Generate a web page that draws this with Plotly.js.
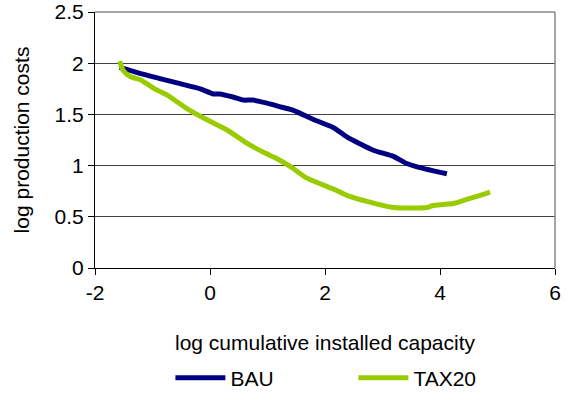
<!DOCTYPE html>
<html><head><meta charset="utf-8">
<script src="https://cdn.plot.ly/plotly-3.0.1.min.js"></script>
<style>html,body{margin:0;padding:0;background:#fff}#c{width:568px;height:398px}</style>
</head><body><div id="c"></div>
<script>
const bauX = [-1.57,-1.39,-1.22,-0.87,-0.52,-0.17,0.06,0.17,0.40,0.58,0.75,0.99,1.25,1.45,1.80,2.15,2.38,2.84,3.19,3.42,3.65,4.12];
const bauY = [1.96,1.93,1.90,1.85,1.80,1.75,1.70,1.70,1.67,1.64,1.64,1.61,1.57,1.54,1.45,1.37,1.28,1.15,1.09,1.02,0.98,0.92];
const taxX = [-1.57,-1.51,-1.39,-1.22,-1.10,-0.93,-0.75,-0.41,-0.06,0.29,0.64,0.93,1.16,1.40,1.68,2.15,2.38,2.73,3.19,3.77,3.88,4.06,4.23,4.41,4.58,4.70,4.87];
const taxY = [2.02,1.93,1.87,1.84,1.80,1.74,1.69,1.56,1.45,1.35,1.22,1.13,1.07,0.99,0.88,0.77,0.71,0.65,0.59,0.59,0.61,0.62,0.63,0.66,0.69,0.71,0.74];
const xTicks = [-2,0,2,4,6];
const yTicks = [0,0.5,1,1.5,2,2.5];
const F = "'Liberation Sans', Arial, sans-serif";
const FS = 21;
const traces = [
  {x: bauX, y: bauY, name: 'BAU', mode: 'lines', line: {color: '#000080', width: 5, shape: 'spline', smoothing: 0.6}},
  {x: taxX, y: taxY, name: 'TAX20', mode: 'lines', line: {color: '#99CC00', width: 5, shape: 'spline', smoothing: 0.6}}
];
const layout = {
  width: 568, height: 398,
  margin: {l: 95, r: 13, t: 12, b: 130},
  paper_bgcolor: '#fff', plot_bgcolor: '#fff',
  font: {family: F, size: FS, color: '#000'},
  showlegend: true,
  legend: {orientation: 'h', x: 0.30, xref: 'container', xanchor: 'left', y: 0.05, yref: 'container', yanchor: 'middle',
    font: {family: F, size: FS}, itemwidth: 50, entrywidth: 118, traceorder: 'normal'},
  xaxis: {range: [-2, 6], tickvals: xTicks, ticktext: xTicks.map(String), showgrid: false, zeroline: false, automargin: false,
    showline: true, linecolor: '#000', linewidth: 1, ticks: 'outside', ticklen: 6, tickcolor: '#000',
    title: {text: 'log cumulative installed capacity', font: {family: F, size: FS}, standoff: 32}},
  yaxis: {range: [0, 2.5], tickvals: yTicks, ticktext: yTicks.map(String), showgrid: true, gridcolor: '#404040', gridwidth: 1,
    zeroline: false, showline: true, linecolor: '#000', linewidth: 1, ticks: 'outside', ticklen: 6, tickcolor: '#000', automargin: false,
    title: {text: 'log production costs', font: {family: F, size: FS}, standoff: 19}},
  shapes: [
    {type: 'line', xref: 'paper', yref: 'paper', x0: 0, x1: 1, y0: 1, y1: 1, line: {color: '#888', width: 1.5}},
    {type: 'line', xref: 'paper', yref: 'paper', x0: 1, x1: 1, y0: 0, y1: 1, line: {color: '#888', width: 1.5}}
  ]
};
Plotly.newPlot('c', traces, layout, {displayModeBar: false});
</script></body></html>
